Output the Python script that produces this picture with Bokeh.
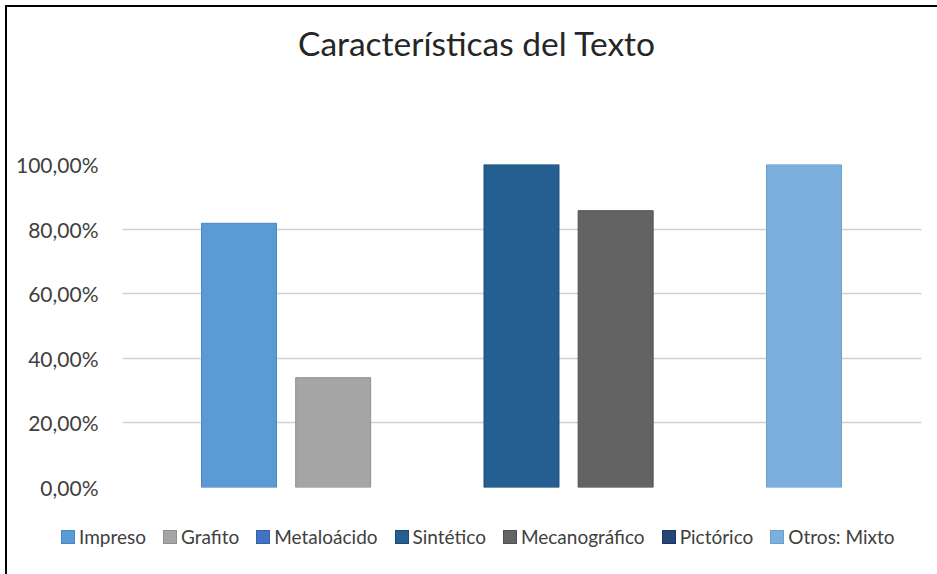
from bokeh.plotting import figure
from bokeh.models import ColumnDataSource, Range1d, FixedTicker, Div
from bokeh.layouts import column
from bokeh.embed import file_html
from bokeh.resources import INLINE

# ---- data ----
series = ["Impreso", "Grafito", "Metaloácido", "Sintético", "Mecanográfico", "Pictórico", "Otros: Mixto"]
values = [0.818, 0.34, 0.0, 1.0, 0.857, 0.0, 1.0]
colors = ["#5B9BD5", "#A5A5A5", "#4472C4", "#255E91", "#636363", "#264478", "#7CAFDD"]
edge_colors = ["#4A86C0", "#8F8F8F", "#3560B0", "#1B4A78", "#4F4F4F", "#1B3561", "#6A9FD0"]
y_ticks = [0.0, 0.2, 0.4, 0.6, 0.8, 1.0]
y_tick_labels = ["0,00%", "20,00%", "40,00%", "60,00%", "80,00%", "100,00%"]
title_text = "Características del Texto"

FONT = "Lato"

edge_alpha = [0.0 if v == 0 else 1.0 for v in values]
src = ColumnDataSource(dict(x=list(range(len(series))), top=values, series=series,
                            color=colors, edge=edge_colors, ea=edge_alpha))

title_div = Div(text=title_text, width=921, height=100,
                styles={"font-family": FONT, "font-size": "33.5px", "color": "#262626",
                        "line-height": "40px", "padding-top": "11px", "padding-left": "286px",
                        "white-space": "nowrap", "box-sizing": "border-box"})

p = figure(width=921, height=390, output_backend="svg", toolbar_location=None,
           x_range=Range1d(-1.237, 7.248), y_range=Range1d(0, 1.0),
           min_border_left=115, min_border_right=7, min_border_top=47, min_border_bottom=20)
p.title = None

r = p.vbar(x="x", top="top", width=0.796, source=src, fill_color="color",
           line_color="edge", line_alpha="ea", line_width=1)

p.outline_line_color = None
p.background_fill_color = "white"
p.border_fill_color = "white"

p.xaxis.visible = False
p.xgrid.visible = False

p.yaxis.ticker = FixedTicker(ticks=y_ticks)
p.yaxis.major_label_overrides = {t: l for t, l in zip(y_ticks, y_tick_labels)}
p.yaxis.axis_line_color = None
p.yaxis.major_tick_line_color = None
p.yaxis.minor_tick_line_color = None
p.yaxis.major_tick_out = 0
p.yaxis.major_tick_in = 0
p.yaxis.major_label_standoff = 24
p.yaxis.major_label_text_font = FONT
p.yaxis.major_label_text_font_size = "21px"
p.yaxis.major_label_text_color = "#404040"

p.ygrid.ticker = FixedTicker(ticks=y_ticks)
p.ygrid.grid_line_color = "#D0D0D0"
p.ygrid.grid_line_width = 1.5

# legend (HTML, one entry per series, built from the arrays above)
legend_html = "".join(
    f'<span style="display:inline-flex;align-items:center;margin-right:17px">'
    f'<span style="display:inline-block;width:14px;height:14px;background:{c};'
    f'box-shadow: inset 0 0 0 1px {e};margin-right:4px"></span>{s}</span>'
    for s, c, e in zip(series, colors, edge_colors))
legend_div = Div(text=legend_html, width=921, height=60,
                 styles={"font-family": FONT, "font-size": "19px", "color": "#404040",
                         "line-height": "24px", "padding-top": "13px", "padding-left": "49px",
                         "white-space": "nowrap", "box-sizing": "border-box"})

layout = column(title_div, p, legend_div, spacing=0,
                styles={"border-left": "2px solid black", "border-top": "2px solid black",
                        "margin-left": "5px", "margin-top": "5px"})

open("out.html", "w").write(file_html(layout, INLINE))
